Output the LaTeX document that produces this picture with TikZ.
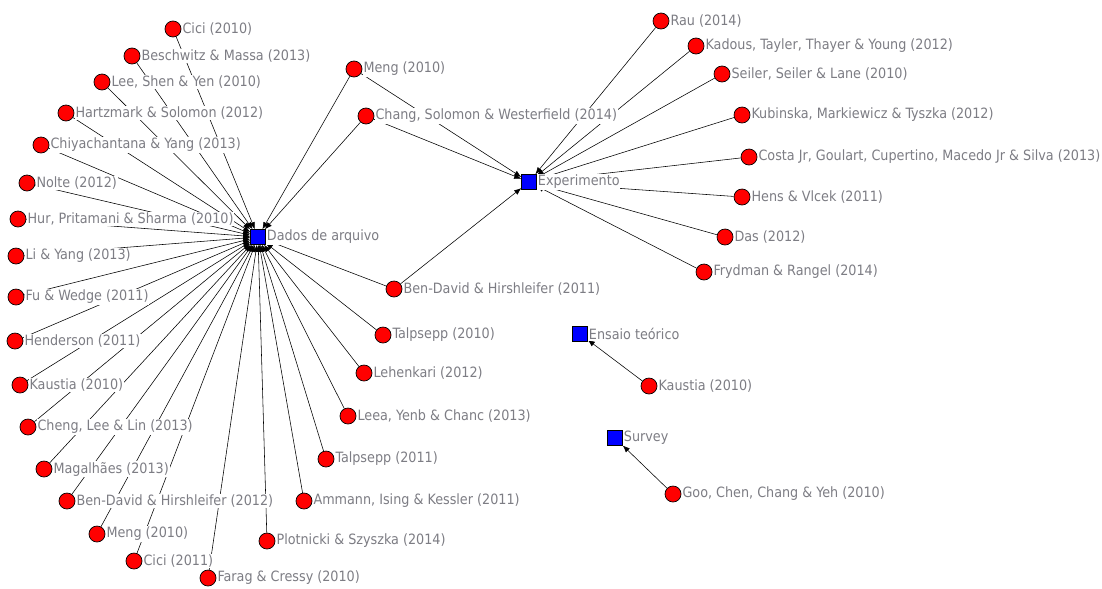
\documentclass[tikz,border=0pt]{standalone}
\usepackage{fontspec}
\setmainfont{DejaVu Sans Condensed}
\usetikzlibrary{arrows.meta,backgrounds}
\definecolor{labelgray}{RGB}{125,125,132}

\begin{document}
\begin{tikzpicture}[x=0.025cm,y=-0.025cm,>={Latex[length=5pt,width=4pt]},line width=0.5pt,
  paper/.style={circle,draw=black,fill=red,minimum size=0.4cm,inner sep=0pt},
  method/.style={rectangle,draw=black,fill=blue,minimum size=0.37cm,inner sep=0pt},
  lbl/.style={text=labelgray,fill=white,inner sep=0.6pt,label distance=0pt,font=\fontsize{10.1}{11}\selectfont}]
  \useasboundingbox (0,0) rectangle (1102,588);

  % methods
  \node[method,label={[lbl]right:Dados de arquivo}] (dados) at (258,237) {};
  \node[method,label={[lbl]right:Experimento}] (exper) at (529,182) {};
  \node[method,label={[lbl]right:Ensaio teórico}] (ensaio) at (580,334) {};
  \node[method,label={[lbl]right:Survey}] (survey) at (615,438) {};

  % papers, archive data
  \node[paper,label={[lbl]right:Cici (2010)}] (cici10) at (173,29) {};
  \node[paper,label={[lbl]right:Beschwitz \& Massa (2013)}] (beschwitz) at (132,56) {};
  \node[paper,label={[lbl]right:Lee, Shen \& Yen (2010)}] (leeshen) at (102,82) {};
  \node[paper,label={[lbl]right:Hartzmark \& Solomon (2012)}] (hartzmark) at (66,113) {};
  \node[paper,label={[lbl]right:Chiyachantana \& Yang (2013)}] (chiya) at (41,145) {};
  \node[paper,label={[lbl]right:Nolte (2012)}] (nolte) at (27,183) {};
  \node[paper,label={[lbl]right:Hur, Pritamani \& Sharma (2010)}] (hur) at (18,219) {};
  \node[paper,label={[lbl]right:Li \& Yang (2013)}] (liyang) at (16,256) {};
  \node[paper,label={[lbl]right:Fu \& Wedge (2011)}] (fuwedge) at (16,297) {};
  \node[paper,label={[lbl]right:Henderson (2011)}] (henderson) at (15,341) {};
  \node[paper,label={[lbl]right:Kaustia (2010)}] (kaustiaA) at (20,385) {};
  \node[paper,label={[lbl]right:Cheng, Lee \& Lin (2013)}] (cheng) at (28,427) {};
  \node[paper,label={[lbl]right:Magalhães (2013)}] (magalhaes) at (44,469) {};
  \node[paper,label={[lbl]right:Ben-David \& Hirshleifer (2012)}] (bendavidB) at (67,501) {};
  \node[paper,label={[lbl]right:Meng (2010)}] (mengB) at (97,534) {};
  \node[paper,label={[lbl]right:Cici (2011)}] (cici11) at (134,561) {};
  \node[paper,label={[lbl]right:Farag \& Cressy (2010)}] (farag) at (208,578) {};
  \node[paper,label={[lbl]right:Plotnicki \& Szyszka (2014)}] (plotnicki) at (267,541) {};
  \node[paper,label={[lbl]right:Ammann, Ising \& Kessler (2011)}] (ammann) at (304,501) {};
  \node[paper,label={[lbl]right:Talpsepp (2011)}] (talpseppB) at (326,459) {};
  \node[paper,label={[lbl]right:Leea, Yenb \& Chanc (2013)}] (leea) at (348,416) {};
  \node[paper,label={[lbl]right:Lehenkari (2012)}] (lehenkari) at (364,373) {};
  \node[paper,label={[lbl]right:Talpsepp (2010)}] (talpseppA) at (383,335) {};
  \node[paper,label={[lbl]right:Ben-David \& Hirshleifer (2011)}] (bendavidA) at (394,289) {};
  \node[paper,label={[lbl]right:Chang, Solomon \& Westerfield (2014)}] (chang) at (366,116) {};
  \node[paper,label={[lbl]right:Meng (2010)}] (mengA) at (354,69) {};

  % papers, experiment
  \node[paper,label={[lbl]right:Rau (2014)}] (rau) at (661,21) {};
  \node[paper,label={[lbl]right:Kadous, Tayler, Thayer \& Young (2012)}] (kadous) at (696,46) {};
  \node[paper,label={[lbl]right:Seiler, Seiler \& Lane (2010)}] (seiler) at (722,74) {};
  \node[paper,label={[lbl]right:Kubinska, Markiewicz \& Tyszka (2012)}] (kubinska) at (742,115) {};
  \node[paper,label={[lbl]right:Costa Jr, Goulart, Cupertino, Macedo Jr \& Silva (2013)}] (costa) at (749,157) {};
  \node[paper,label={[lbl]right:Hens \& Vlcek (2011)}] (hens) at (742,197) {};
  \node[paper,label={[lbl]right:Das (2012)}] (das) at (725,237) {};
  \node[paper,label={[lbl]right:Frydman \& Rangel (2014)}] (frydman) at (704,272) {};

  % papers, essay and survey
  \node[paper,label={[lbl]right:Kaustia (2010)}] (kaustiaB) at (649,386) {};
  \node[paper,label={[lbl]right:Goo, Chen, Chang \& Yeh (2010)}] (goo) at (673,494) {};

  \begin{scope}[on background layer]
    \draw[->] (cici10) -- (dados);
    \draw[->] (beschwitz) -- (dados);
    \draw[->] (leeshen) -- (dados);
    \draw[->] (hartzmark) -- (dados);
    \draw[->] (chiya) -- (dados);
    \draw[->] (nolte) -- (dados);
    \draw[->] (hur) -- (dados);
    \draw[->] (liyang) -- (dados);
    \draw[->] (fuwedge) -- (dados);
    \draw[->] (henderson) -- (dados);
    \draw[->] (kaustiaA) -- (dados);
    \draw[->] (cheng) -- (dados);
    \draw[->] (magalhaes) -- (dados);
    \draw[->] (bendavidB) -- (dados);
    \draw[->] (mengB) -- (dados);
    \draw[->] (cici11) -- (dados);
    \draw[->] (farag) -- (dados);
    \draw[->] (plotnicki) -- (dados);
    \draw[->] (ammann) -- (dados);
    \draw[->] (talpseppB) -- (dados);
    \draw[->] (leea) -- (dados);
    \draw[->] (lehenkari) -- (dados);
    \draw[->] (talpseppA) -- (dados);
    \draw[->] (bendavidA) -- (dados);
    \draw[->] (chang) -- (dados);
    \draw[->] (mengA) -- (dados);

    \draw[->] (mengA) -- (exper);
    \draw[->] (chang) -- (exper);
    \draw[->] (bendavidA) -- (exper);
    \draw[->] (rau) -- (exper);
    \draw[->] (kadous) -- (exper);
    \draw[->] (seiler) -- (exper);
    \draw[->] (kubinska) -- (exper);
    \draw[->] (costa) -- (exper);
    \draw[->] (hens) -- (exper);
    \draw[->] (das) -- (exper);
    \draw[->] (frydman) -- (exper);

    \draw[->] (kaustiaB) -- (ensaio);
    \draw[->] (goo) -- (survey);
  \end{scope}
\end{tikzpicture}
\end{document}
